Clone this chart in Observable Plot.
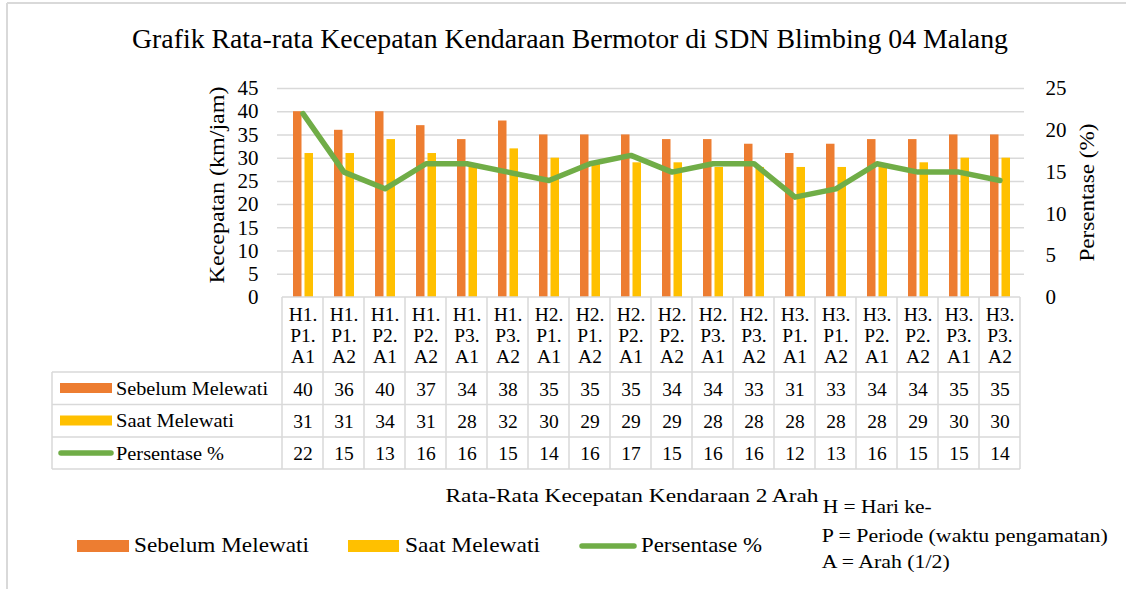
<!DOCTYPE html>
<html><head><meta charset="utf-8">
<script src="https://cdn.jsdelivr.net/npm/d3@7"></script>
<script src="https://cdn.jsdelivr.net/npm/@observablehq/plot@0.6"></script>
<style>body{margin:0;background:#fff;} #chart{width:1126px;height:589px;}</style>
</head><body><div id="chart"></div>
<script>
const categories = ["H1.P1.A1","H1.P1.A2","H1.P2.A1","H1.P2.A2","H1.P3.A1","H1.P3.A2","H2.P1.A1","H2.P1.A2","H2.P2.A1","H2.P2.A2","H2.P3.A1","H2.P3.A2","H3.P1.A1","H3.P1.A2","H3.P2.A1","H3.P2.A2","H3.P3.A1","H3.P3.A2"];
const sebelum = [40,36,40,37,34,38,35,35,35,34,34,33,31,33,34,34,35,35];
const saat = [31,31,34,31,28,32,30,29,29,29,28,28,28,28,28,29,30,30];
const persentase = [22,15,13,16,16,15,14,16,17,15,16,16,12,13,16,15,15,14];
const leftTicks = [0,5,10,15,20,25,30,35,40,45];
const rightTicks = [0,5,10,15,20,25];
const seriesNames = ["Sebelum Melewati","Saat Melewati","Persentase %"];
const colors = ["#ED7D31","#FFC000","#70AD47"];
const title = "Grafik Rata-rata Kecepatan Kendaraan Bermotor di SDN Blimbing 04 Malang";
const yTitle = "Kecepatan (km/jam)";
const y2Title = "Persentase (%)";
const xTitle = "Rata-Rata Kecepatan Kendaraan 2 Arah";
const notes = ["H = Hari ke-","P = Periode (waktu pengamatan)","A = Arah (1/2)"];

const data = categories.map((c,i)=>({cat:c, sebelum:sebelum[i], saat:saat[i], pct:persentase[i]}));
const K = 45/25;
const serif = "'Liberation Serif','Times New Roman',serif";
const grid = "#D9D9D9";
const tf = 19.5; // table font

const plot = Plot.plot({
  width:1126, height:589,
  marginTop:88, marginBottom:292, marginLeft:277, marginRight:102,
  style:{fontFamily:serif, fontSize:"20px", color:"#000", background:"#fff", overflow:"visible"},
  x:{type:"band", domain:categories, padding:0, axis:null},
  y:{domain:[0,45], axis:null},
  marks:[
    Plot.ruleY(leftTicks.filter(d=>d>0), {stroke:grid, strokeWidth:1.5, strokeOpacity:1}),
    Plot.barY(data, {x:"cat", y:"sebelum", fill:colors[0], insetLeft:11, insetRight:21.5}),
    Plot.barY(data, {x:"cat", y:"saat", fill:colors[1], insetLeft:22.5, insetRight:10}),
    Plot.line(data, {x:"cat", y:d=>d.pct*K, stroke:colors[2], strokeWidth:5.5, strokeLinejoin:"round", strokeLinecap:"round"}),
    Plot.axisY({anchor:"left", ticks:leftTicks, tickSize:0, tickPadding:19, label:null, fontSize:21}),
    Plot.axisY({anchor:"right", ticks:rightTicks.map(p=>p*K), tickFormat:d=>Math.round(d/K), tickSize:0, tickPadding:21, label:null, fontSize:21}),
    Plot.text(categories, {x:d=>d, text:d=>d.replace(/\./g, ".\n"), frameAnchor:"bottom", lineAnchor:"middle", dy:37.8, lineHeight:1.09, fontSize:tf}),
    Plot.text(data, {x:"cat", text:"sebelum", frameAnchor:"bottom", lineAnchor:"middle", dy:91.8, fontSize:tf}),
    Plot.text(data, {x:"cat", text:"saat", frameAnchor:"bottom", lineAnchor:"middle", dy:123.8, fontSize:tf}),
    Plot.text(data, {x:"cat", text:"pct", frameAnchor:"bottom", lineAnchor:"middle", dy:156.6, fontSize:tf})
  ]
});
document.getElementById("chart").appendChild(plot);

const svg = d3.select(plot);
const xs = plot.scale("x");
const bw = xs.bandwidth;
const xLeft = xs.apply(categories[0]);
const xRight = xs.apply(categories[categories.length-1]) + bw;
const yTop = 297, rowsY = [372, 404.5, 437, 469], tableLeft = 52;
const deco = svg.append("g").attr("stroke", grid).attr("fill","none");
deco.append("line").attr("x1",7).attr("x2",1126).attr("y1",3).attr("y2",3).attr("stroke-width",2);
deco.append("line").attr("x1",7).attr("x2",7).attr("y1",3).attr("y2",589).attr("stroke-width",2);
deco.append("line").attr("x1",xLeft).attr("x2",xRight).attr("y1",yTop).attr("y2",yTop).attr("stroke-width",1.5);
rowsY.forEach(y=>deco.append("line").attr("x1",tableLeft).attr("x2",xRight).attr("y1",y).attr("y2",y).attr("stroke-width",1.5));
categories.forEach(c=>{const x0=xs.apply(c); deco.append("line").attr("x1",x0).attr("x2",x0).attr("y1",yTop).attr("y2",rowsY[3]).attr("stroke-width",1.5);});
deco.append("line").attr("x1",xRight).attr("x2",xRight).attr("y1",yTop).attr("y2",rowsY[3]).attr("stroke-width",1.5);
deco.append("line").attr("x1",tableLeft).attr("x2",tableLeft).attr("y1",rowsY[0]).attr("y2",rowsY[3]).attr("stroke-width",1.5);

const T = svg.append("g").attr("font-family", serif).attr("fill","#000").attr("text-anchor","start");
function txt(s, x, y, size, len, anchor){
  const t = T.append("text").attr("x",x).attr("y",y).attr("font-size",size).attr("text-anchor",anchor||"start").text(s);
  if (len) t.attr("textLength",len).attr("lengthAdjust","spacingAndGlyphs");
  return t;
}
// table legend keys
const rowBase = [395, 427, 460];
T.append("rect").attr("x",60).attr("y",383).attr("width",52).attr("height",10).attr("fill",colors[0]);
T.append("rect").attr("x",60).attr("y",415.5).attr("width",52).attr("height",10).attr("fill",colors[1]);
T.append("line").attr("x1",61).attr("x2",111).attr("y1",453).attr("y2",453).attr("stroke",colors[2]).attr("stroke-width",5.5).attr("stroke-linecap","round");
txt(seriesNames[0], 116, rowBase[0], tf, 152);
txt(seriesNames[1], 116, rowBase[1], tf, 118);
txt(seriesNames[2], 116, rowBase[2], tf, 108);
// title
txt(title, 132, 48, 27, 876);
// axis titles
T.append("text").attr("transform","translate(217.3,185) rotate(-90)").attr("dy","0.32em").attr("text-anchor","middle").attr("font-size",21).attr("textLength",197).attr("lengthAdjust","spacingAndGlyphs").text(yTitle);
T.append("text").attr("transform","translate(1087.3,192.5) rotate(-90)").attr("dy","0.32em").attr("text-anchor","middle").attr("font-size",21).attr("textLength",138).attr("lengthAdjust","spacingAndGlyphs").text(y2Title);
// x title
txt(xTitle, 445.5, 502, 18, 373);
// bottom legend
T.append("rect").attr("x",77).attr("y",540).attr("width",52).attr("height",12).attr("fill",colors[0]);
txt(seriesNames[0], 134, 552, 22, 175);
T.append("rect").attr("x",348).attr("y",540).attr("width",51).attr("height",12).attr("fill",colors[1]);
txt(seriesNames[1], 405, 552, 22, 135);
T.append("line").attr("x1",582).attr("x2",634).attr("y1",546).attr("y2",546).attr("stroke",colors[2]).attr("stroke-width",5.5).attr("stroke-linecap","round");
txt(seriesNames[2], 641, 552, 22, 121);
// notes
txt(notes[0], 822.7, 513.3, 19, 109);
txt(notes[1], 821.7, 541.7, 19, 286);
txt(notes[2], 821.7, 568, 19, 128);
</script>
</body></html>
